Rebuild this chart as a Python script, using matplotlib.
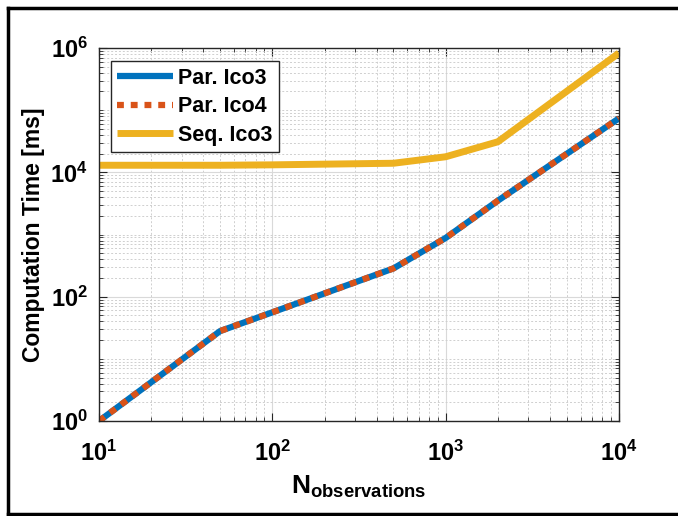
import math
import matplotlib
matplotlib.use('Agg')
import matplotlib.pyplot as plt
import matplotlib.ticker as ticker
from matplotlib.lines import Line2D

plt.rcParams['font.family'] = ['Liberation Sans', 'DejaVu Sans']
plt.rcParams['font.weight'] = 'bold'
plt.rcParams['mathtext.fontset'] = 'custom'
plt.rcParams['mathtext.rm'] = 'Liberation Sans:bold'
plt.rcParams['mathtext.bf'] = 'Liberation Sans:bold'
plt.rcParams['mathtext.it'] = 'Liberation Sans:bold'
plt.rcParams['mathtext.default'] = 'bf'

# data
n_obs = [10, 50, 100, 500, 1000, 2000, 10000]
par_ico3 = [1.0, 28, 56, 285, 880, 3500, 74000]
par_ico4 = [1.0, 28, 56, 285, 880, 3500, 74000]
seq_ico3 = [13000, 13000, 13200, 14000, 17800, 31000, 830000]

blue = '#0072BD'
orange = '#D95319'
yellow = '#EDB120'

fig = plt.figure(figsize=(6.78, 5.16), dpi=100)
ax = fig.add_axes([99/678, (516-421)/516, 520/678, 373/516])

ax.plot(n_obs, par_ico3, color=blue, lw=4.5, label='Par. Ico3', solid_capstyle='butt')
ax.plot(n_obs, par_ico4, color=orange, lw=4.5, ls=(0, (1.1, 1.1)),
        dash_capstyle='butt', label='Par. Ico4')
ax.plot(n_obs, seq_ico3, color=yellow, lw=5, label='Seq. Ico3', solid_capstyle='butt')

ax.set_xscale('log')
ax.set_yscale('log')
ax.set_xlim(10, 1e4)
ax.set_ylim(1, 1e6)

ax.xaxis.set_major_locator(ticker.FixedLocator([1e1, 1e2, 1e3, 1e4]))
ax.xaxis.set_minor_locator(ticker.LogLocator(base=10, subs=range(2, 10), numticks=20))
ax.yaxis.set_major_locator(ticker.FixedLocator([1e0, 1e2, 1e4, 1e6]))
yminor = []
for e in range(0, 6):
    for k in range(1, 10):
        v = k * 10**e
        if v not in (1, 100, 10000) and v < 1e6:
            yminor.append(v)
ax.yaxis.set_minor_locator(ticker.FixedLocator(yminor))

fmt = ticker.FuncFormatter(lambda v, p: r'$\mathbf{10^{%d}}$' % round(math.log10(v)))
ax.xaxis.set_major_formatter(fmt)
ax.yaxis.set_major_formatter(fmt)
ax.xaxis.set_minor_formatter(ticker.NullFormatter())
ax.yaxis.set_minor_formatter(ticker.NullFormatter())

ax.tick_params(which='both', direction='in', top=True, right=True, color='#262626')
ax.tick_params(which='major', length=6, width=0.8, labelsize=17)
ax.tick_params(axis='x', which='major', pad=14)
ax.tick_params(axis='y', which='major', pad=8)
ax.tick_params(which='minor', length=3, width=0.6)
for s in ax.spines.values():
    s.set_color('#262626')
    s.set_linewidth(1.0)

ax.grid(True, which='major', color='#d9d9d9', lw=0.8, ls='-')
ax.grid(True, which='minor', color='#cfcfcf', lw=0.7, ls=(0, (2, 2)))
ax.set_axisbelow(True)

ax.set_xlabel(r'$\mathbf{N_{observations}}$', fontsize=19, labelpad=6)
ax.set_ylabel('Computation Time [ms]', fontsize=16.5, fontweight='bold', labelpad=4)

leg = ax.legend(loc='upper left', bbox_to_anchor=(0.023, 0.965), fontsize=15.5,
                handlelength=2.6, handletextpad=0.2, borderpad=0.3,
                labelspacing=0.35, fancybox=False, framealpha=1, borderaxespad=0)
leg.get_frame().set_edgecolor('#262626')
leg.get_frame().set_linewidth(1.0)

# outer black frame of the picture (left, top, bottom)
x0, y_top, y_bot = 8/678, 1 - 8/516, 2.5/516
for xs, ys in [([x0, x0], [y_bot, y_top]), ([x0, 1.0], [y_top, y_top]), ([x0, 1.0], [y_bot, y_bot])]:
    fig.add_artist(Line2D(xs, ys, transform=fig.transFigure, color='black', lw=2.5))

fig.savefig('out.png', dpi=100)
